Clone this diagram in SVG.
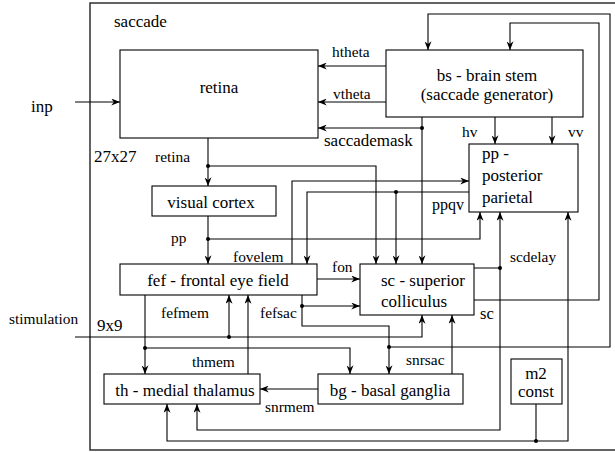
<svg xmlns="http://www.w3.org/2000/svg" width="615" height="452" viewBox="0 0 615 452" font-family="'Liberation Serif', 'DejaVu Serif', serif">
<defs>
<marker id="arr" viewBox="0 0 10 8" refX="10" refY="4" markerWidth="9" markerHeight="7" markerUnits="userSpaceOnUse" orient="auto">
<path d="M0,0 L10,4 L0,8 L3,4 z" fill="#000"/>
</marker>
<style>
.box{fill:#fff;stroke:#000;stroke-width:1.1}
.frame{fill:none;stroke:#222;stroke-width:1.4}
.c{fill:none;stroke:#000;stroke-width:1.1}
.a{marker-end:url(#arr)}
.dot{fill:#000}
.n{font-size:17px}
.nm{font-size:17px;text-anchor:middle}
.l{font-size:15.4px}
</style>
</defs>
<rect class="frame" x="90" y="3" width="540" height="447"/>
<text class="n" x="114" y="27">saccade</text>
<text class="n" x="31" y="112">inp</text>
<text class="n" x="94" y="162">27x27</text>
<text class="l" x="9" y="324">stimulation</text>
<text class="n" x="97" y="331">9x9</text>

<g id="connectors">
<path class="c a" d="M75,102 H120"/>
<path class="c a" d="M386,66 H318"/>
<path class="c a" d="M386,102 H318"/>
<path class="c a" d="M422,117 V264"/>
<path class="c a" d="M422,128 H318"/>
<circle class="dot" cx="422" cy="128" r="2"/>
<path class="c a" d="M208,138 V186"/>
<path class="c a" d="M208,166 H376 V264"/>
<circle class="dot" cx="208" cy="166" r="2"/>
<path class="c a" d="M208,216 V264"/>
<path class="c a" d="M208,239 H480 V212"/>
<circle class="dot" cx="208" cy="239" r="2"/>
<path class="c a" d="M292,264 V181 H469"/>
<path class="c a" d="M469,192 H307 V264"/>
<path class="c a" d="M396,192 V264"/>
<circle class="dot" cx="396" cy="192" r="2"/>
<path class="c a" d="M317,279 H360"/>
<path class="c a" d="M302,295 V326 H389 V374"/>
<path class="c a" d="M302,306 H360"/>
<circle class="dot" cx="302" cy="306" r="2"/>
<path class="c a" d="M389,347 H610 V14 H428 V50"/>
<circle class="dot" cx="389" cy="347" r="2"/>
<path class="c a" d="M474,300 H599 V23 H510 V50"/>
<path class="c a" d="M474,268 H500 V212"/>
<path class="c a" d="M500,268 V430 H197 V404"/>
<circle class="dot" cx="500" cy="268" r="2"/>
<path class="c a" d="M495,117 V144"/>
<path class="c a" d="M552,117 V144"/>
<path class="c a" d="M75,337 H422 V315"/>
<path class="c a" d="M229,337 V295"/>
<circle class="dot" cx="229" cy="337" r="2"/>
<path class="c a" d="M248,374 V295"/>
<path class="c a" d="M145,295 V374"/>
<path class="c a" d="M145,348 H350 V374"/>
<circle class="dot" cx="145" cy="348" r="2"/>
<path class="c a" d="M452,374 V315"/>
<path class="c a" d="M318,389 H260"/>
<path class="c a" d="M536,404 V441 H568 V212"/>
<path class="c a" d="M536,441 H167 V404"/>
<circle class="dot" cx="536" cy="441" r="2"/>
<text class="l" x="332" y="57">htheta</text>
<text class="l" x="333" y="99">vtheta</text>
<text class="n" x="324" y="146">saccademask</text>
<text class="l" x="155" y="162">retina</text>
<text class="l" x="171" y="243">pp</text>
<text class="l" x="233" y="262">fovelem</text>
<text class="l" x="432" y="210" style="font-size:16px">ppqv</text>
<text class="l" x="332" y="272">fon</text>
<text class="l" x="161" y="318">fefmem</text>
<text class="l" x="260" y="318">fefsac</text>
<text class="l" x="510" y="262">scdelay</text>
<text class="l" x="480" y="319" style="font-size:16.5px">sc</text>
<text class="l" x="462" y="137">hv</text>
<text class="l" x="568" y="137">vv</text>
<text class="l" x="192" y="367">thmem</text>
<text class="l" x="265" y="412">snrmem</text>
<text class="l" x="406" y="365">snrsac</text>
</g>

<g id="retina">
<rect class="box" x="120" y="50" width="198" height="88"/>
<text class="nm" x="219" y="93">retina</text>
</g>
<g id="bs">
<rect class="box" x="386" y="50" width="197" height="67"/>
<text class="nm" x="487" y="81">bs - brain stem</text>
<text class="nm" x="487" y="100">(saccade generator)</text>
</g>
<g id="pp">
<rect class="box" x="469" y="144" width="109" height="68"/>
<text class="n" x="482" y="159">pp -</text>
<text class="n" x="482" y="181">posterior</text>
<text class="n" x="482" y="203">parietal</text>
</g>
<g id="visual_cortex">
<rect class="box" x="152" y="186" width="124" height="30"/>
<text class="nm" x="211" y="208">visual cortex</text>
</g>
<g id="fef">
<rect class="box" x="120" y="264" width="197" height="31"/>
<text class="nm" x="218" y="286">fef - frontal eye field</text>
</g>
<g id="sc">
<rect class="box" x="360" y="264" width="114" height="51"/>
<text class="n" x="381" y="286">sc - superior</text>
<text class="n" x="381" y="307">colliculus</text>
</g>
<g id="th">
<rect class="box" x="104" y="374" width="156" height="30"/>
<text class="nm" x="185" y="396">th - medial thalamus</text>
</g>
<g id="bg">
<rect class="box" x="318" y="374" width="145" height="30"/>
<text class="nm" x="390" y="396">bg - basal ganglia</text>
</g>
<g id="m2">
<rect class="box" x="511" y="359" width="51" height="45"/>
<text class="nm" x="536" y="379">m2</text>
<text class="nm" x="536" y="397">const</text>
</g>
</svg>
